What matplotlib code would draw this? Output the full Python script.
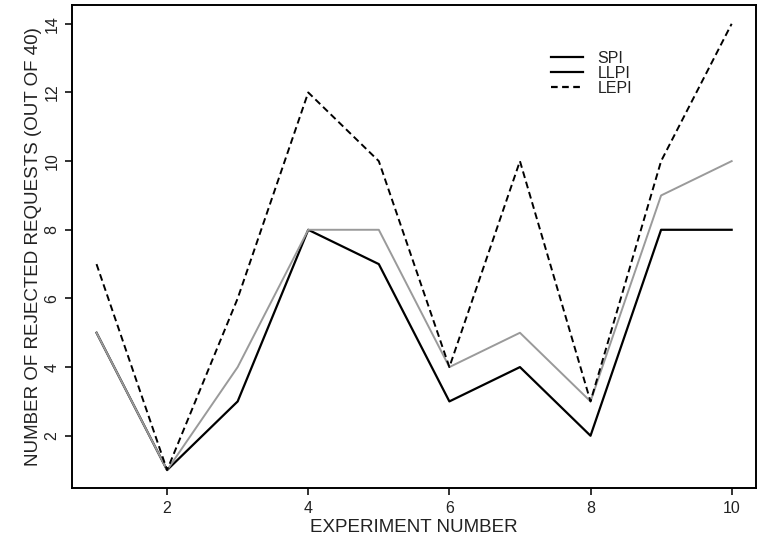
import numpy as np
import matplotlib.pyplot as plt
from matplotlib.lines import Line2D

plt.rcParams['font.family'] = ['Liberation Sans', 'DejaVu Sans']

# rejected requests per experiment for each policy
experiments = [1, 2, 3, 4, 5, 6, 7, 8, 9, 10]
spi = [5, 1, 3, 8, 7, 3, 4, 2, 8, 8]
llpi = [5, 1, 4, 8, 8, 4, 5, 3, 9, 10]
lepi = [7, 1, 6, 12, 10, 4, 10, 3, 10, 14]

fig = plt.figure(figsize=(7.64, 5.48), dpi=100)
ax = fig.add_axes([0.094, 0.109, 0.896, 0.882])

ax.plot(experiments, spi, color='black', lw=1.6)
ax.plot(experiments, llpi, color='#9a9a9a', lw=1.4)
ax.plot(experiments, lepi, color='black', lw=1.4, dashes=(3.5, 2))

ax.set_xlim(0.65, 10.35)
ax.set_ylim(0.47, 14.55)
ax.set_xticks([2, 4, 6, 8, 10])
ax.set_yticks([2, 4, 6, 8, 10, 12, 14])
ax.tick_params(labelsize=11.5, length=5, width=1.3, pad=4, colors='#222222')
for lab in ax.get_yticklabels():
    lab.set_rotation(90)
    lab.set_va('center')
for sp in ax.spines.values():
    sp.set_linewidth(1.4)

ax.set_xlabel('EXPERIMENT NUMBER', fontsize=13.5, labelpad=2, color='#222222')
ax.set_ylabel('NUMBER OF REJECTED REQUESTS (OUT OF 40)', fontsize=13.5, labelpad=2,
              color='#222222')

handles = [Line2D([], [], color='black', lw=1.6),
           Line2D([], [], color='black', lw=1.6),
           Line2D([], [], color='black', lw=1.6, dashes=(3, 2))]
leg = ax.legend(handles, ['SPI', 'LLPI', 'LEPI'], loc='upper left',
                bbox_to_anchor=(0.679, 0.935), frameon=False, fontsize=11.5,
                handlelength=2.0, labelspacing=0.0, handletextpad=0.9)
for t in leg.get_texts():
    t.set_color('#222222')

plt.savefig('out.png')
